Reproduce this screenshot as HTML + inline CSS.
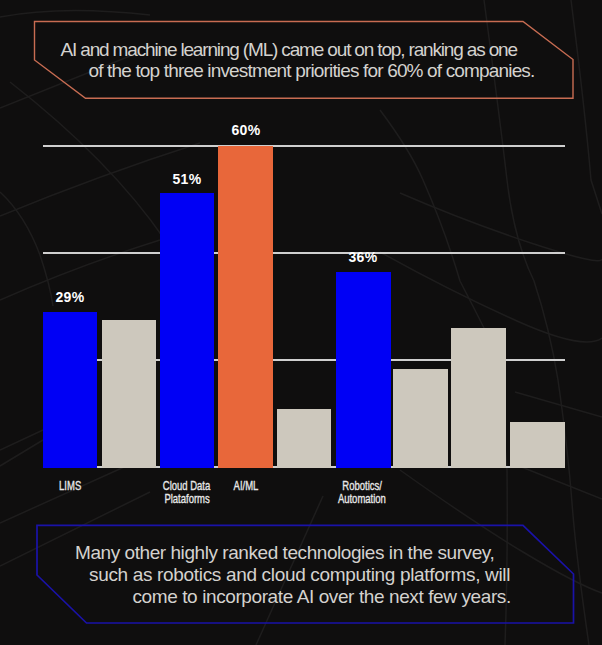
<!DOCTYPE html>
<html><head><meta charset="utf-8">
<style>
html,body{margin:0;padding:0;}
body{width:602px;height:645px;background:#0f0e0e;position:relative;overflow:hidden;font-family:"Liberation Sans",sans-serif;}
.abs{position:absolute;}
.txt{position:absolute;color:#d4d2ce;font-size:19px;white-space:nowrap;line-height:1;}
.bar{position:absolute;bottom:177px;width:54.8px;z-index:2;}
.b{background:#0000f5;}
.o{background:#e8673a;}
.g{background:#cdc8bd;}
.grid{position:absolute;left:43px;width:522px;height:2px;background:#cfcfcf;}
.pct{position:absolute;color:#fff;font-weight:bold;font-size:14px;letter-spacing:0.3px;white-space:nowrap;line-height:1;text-align:center;width:60px;}
.lab{position:absolute;color:#e8e8e8;font-size:13px;white-space:nowrap;line-height:13px;text-align:center;width:80px;}
.lab span{display:inline-block;transform:scaleX(0.73);transform-origin:center;-webkit-text-stroke:0.35px #e8e8e8;}
</style></head><body>
<svg class="abs" style="left:0;top:0" width="602" height="645">
  <g fill="none" stroke="#1e1d1d" stroke-width="1.5">
    <path d="M484,0 Q500,120 507,180 T534,281 Q550,330 558,380 Q568,450 572,503 T589,645"/>
    <path d="M571,0 Q585,110 591,180 L602,214"/>
    <path d="M380,110 Q410,150 423,180 Q445,230 460,281 Q475,310 484,328 Q500,380 507,470 Q508,560 505,645"/>
    <path d="M400,193 Q467,222 534,244 T602,259"/>
    <path d="M380,252 Q450,291 517,321 T602,338"/>
    <path d="M400,470 Q470,520 523,552 T602,593"/>
    <path d="M515,392 L602,417"/>
    <path d="M519,466 L602,499"/>
    <path d="M0,216 Q100,175 200,143"/>
    <path d="M0,300 Q80,265 160,240"/>
    <path d="M0,192 Q25,215 40,255 Q50,285 53,306"/>
    <path d="M10,82 Q110,160 165,240"/>
    <path d="M0,523 L133,463"/>
    <path d="M0,450 L43,430"/>
    <path d="M0,466 L43,440"/>
    <path d="M0,566 L150,492"/>
    <path d="M0,108 L140,52"/>
    
    <path d="M0,17 Q62,5 150,15"/>
    <path d="M256,645 L323,496"/>
  </g>
  <polygon points="34.5,21.5 523,21.5 573,59.5 573,98.2 85.5,98.2 34.5,60" fill="none" stroke="#c86c52" stroke-width="1.4"/>
  <polygon points="37,525.3 523,525.3 573.5,574 573.5,623 86.5,623 37,575" fill="none" stroke="#1a12a8" stroke-width="1.7"/>
</svg>

<div class="txt" id="t1" style="left:60.5px;top:39.6px;letter-spacing:-1.16px">AI and machine learning (ML) came out on top, ranking as one</div>
<div class="txt" id="t2" style="left:88.5px;top:61.3px;letter-spacing:-0.84px">of the top three investment priorities for 60% of companies.</div>

<div class="grid" style="top:145px"></div>
<div class="grid" style="top:252px"></div>
<div class="grid" style="top:359px"></div>
<div class="grid" style="top:466px"></div>

<div class="bar b" style="left:42.6px;height:156.0px"></div>
<div class="bar g" style="left:101.55px;height:148.0px"></div>
<div class="bar b" style="left:159.65px;height:275.0px"></div>
<div class="bar o" style="left:218.4px;height:322.0px"></div>
<div class="bar g" style="left:276.65px;height:59.5px"></div>
<div class="bar b" style="left:335.9px;height:196.0px"></div>
<div class="bar g" style="left:393.3px;height:99.0px"></div>
<div class="bar g" style="left:451.45px;height:140.0px"></div>
<div class="bar g" style="left:510.2px;height:46.5px"></div>

<div class="pct" style="left:40px;top:290.3px">29%</div>
<div class="pct" style="left:157px;top:171.7px">51%</div>
<div class="pct" style="left:216px;top:123px">60%</div>
<div class="pct" style="left:333px;top:250.2px">36%</div>

<div class="lab" style="left:30px;top:478.5px"><span>LIMS</span></div>
<div class="lab" style="left:147px;top:478.5px"><span>Cloud Data</span><br><span>Plataforms</span></div>
<div class="lab" style="left:206px;top:478.5px"><span>AI/ML</span></div>
<div class="lab" style="left:322px;top:478.5px"><span>Robotics/</span><br><span>Automation</span></div>

<div class="txt" id="t3" style="left:75px;top:543.4px;letter-spacing:-0.44px">Many other highly ranked technologies in the survey,</div>
<div class="txt" id="t4" style="left:89px;top:565.1px;letter-spacing:-0.33px">such as robotics and cloud computing platforms, will</div>
<div class="txt" id="t5" style="left:132.5px;top:586.7px;letter-spacing:-0.40px">come to incorporate AI over the next few years.</div>
</body></html>
